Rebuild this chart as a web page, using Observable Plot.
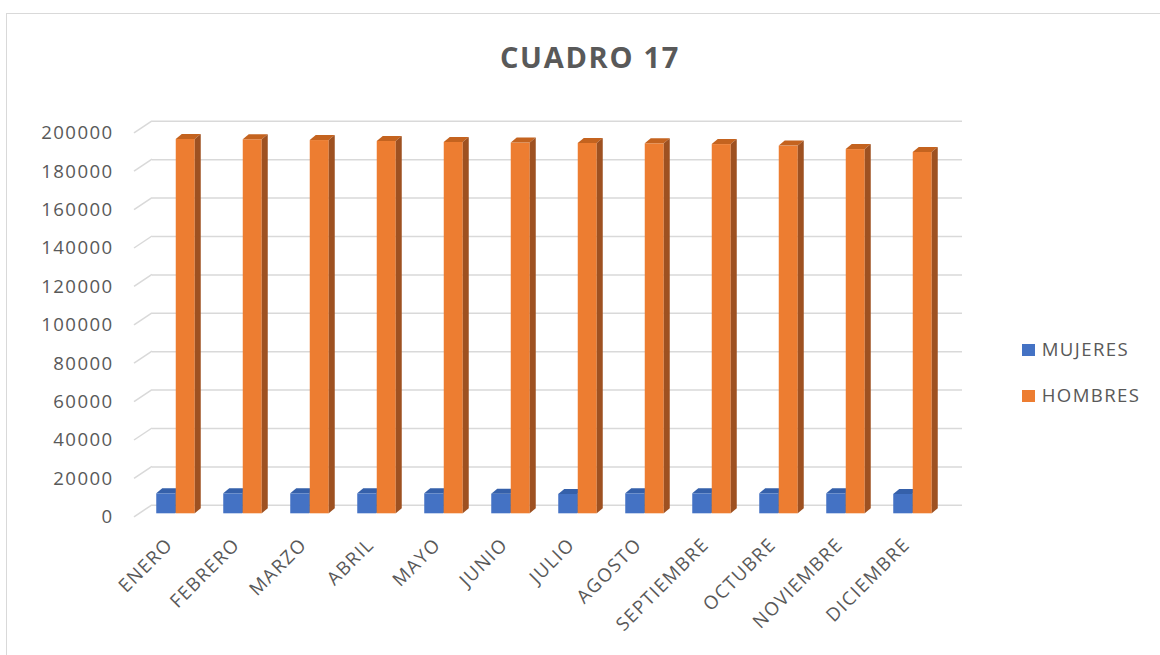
<!DOCTYPE html>
<html>
<head>
<meta charset="utf-8">
<script src="https://cdn.jsdelivr.net/npm/d3@7"></script>
<script src="https://cdn.jsdelivr.net/npm/@observablehq/plot@0.6"></script>
<style>
  html, body { margin: 0; padding: 0; background: #fff; overflow: hidden; }
  #wrap { position: relative; width: 1160px; height: 655px; overflow: hidden; font-family: "Open Sans", sans-serif; }
  #border { position: absolute; left: 6px; top: 13px; width: 1300px; height: 800px; border: 1.5px solid #d9d9d9; box-sizing: border-box; }
  #chart { position: absolute; left: 0; top: 0; }
  #title { position: absolute; left: 0; width: 1180px; top: 41.6px; text-align: center; font-size: 29px; line-height: 29px; font-weight: 700; color: #595959; letter-spacing: 1.7px; }
  .leg { position: absolute; left: 1022px; font-size: 18.6px; line-height: 18.6px; color: #595959; letter-spacing: 1.4px; white-space: nowrap; }
  .leg span.sw { position: absolute; left: 0; top: 3.5px; width: 12.5px; height: 12.5px; }
  .leg span.lab { position: absolute; left: 19.7px; top: 0; }
</style>
</head>
<body>
<div id="wrap">
  <div id="border"></div>
  <div id="chart"></div>
  <div id="title">CUADRO 17</div>
  <div id="legend"></div>
</div>
<script>
const months = ["ENERO","FEBRERO","MARZO","ABRIL","MAYO","JUNIO","JULIO","AGOSTO","SEPTIEMBRE","OCTUBRE","NOVIEMBRE","DICIEMBRE"];
const mujeres = [10400,10400,10400,10400,10400,10200,10100,10400,10400,10400,10400,10100];
const hombres = [194950,194800,194400,193900,193400,193100,192900,192700,192300,191500,189700,188200];
const seriesNames = ["MUJERES","HOMBRES"];
const seriesColors = ["#4472C4","#ED7D31"];
const yTicks = [0,20000,40000,60000,80000,100000,120000,140000,160000,180000,200000];

const data = months.map((m, i) => ({month: m, mujeres: mujeres[i], hombres: hombres[i]}));
const textColor = "#595959";
const gridColor = "#d9d9d9";

const chart = Plot.plot({
  width: 1160,
  height: 655,
  marginLeft: 139,
  marginRight: 211,
  marginTop: 129.3,
  marginBottom: 141.7,
  x: {domain: months, padding: 0, axis: null},
  y: {domain: [0, 200000], axis: null},
  style: {fontFamily: "Open Sans, sans-serif", letterSpacing: "1.4px", background: "transparent"},
  marks: [
    Plot.ruleY(yTicks, {dx: 13, dy: -8.5, stroke: gridColor, strokeWidth: 1.5}),
    Plot.text(yTicks, {y: d => d, text: d => String(d), frameAnchor: "left", textAnchor: "end", dx: -26, dy: 3.5, fontSize: 18.6, fill: textColor}),
    Plot.text(months, {x: d => d, text: d => d, frameAnchor: "bottom", rotate: -45, textAnchor: "end", dx: -2, dy: 32, fontSize: 18.6, fill: textColor}),
    Plot.barY(data, {x: "month", y: "mujeres", fill: seriesColors[0], insetLeft: 14.25, insetRight: 33.75}),
    Plot.barY(data, {x: "month", y: "hombres", fill: seriesColors[1], insetLeft: 33.75, insetRight: 14.25})
  ]
});
document.getElementById("chart").appendChild(chart);

const ns = "http://www.w3.org/2000/svg";
// slanted floor/wall connectors for each gridline, from the library's scales
const ys = chart.scale("y");
const xr = chart.scale("x").range;
const slantG = document.createElementNS(ns, "g");
yTicks.forEach(v => {
  const py = ys.apply(v);
  const l = document.createElementNS(ns, "line");
  l.setAttribute("x1", xr[0] - 5);
  l.setAttribute("y1", py + 3.5);
  l.setAttribute("x2", xr[0] + 13);
  l.setAttribute("y2", py - 8.5);
  l.setAttribute("stroke", gridColor);
  l.setAttribute("stroke-width", 1.5);
  slantG.appendChild(l);
});
const ruleG = chart.querySelector('g[aria-label="rule"]');
if (ruleG) ruleG.parentNode.insertBefore(slantG, ruleG.nextSibling);
else chart.insertBefore(slantG, chart.firstChild);

// 3D faces derived from each rendered bar
function add3D(g, topColor, sideColor) {
  if (!g) return;
  const dx = 6, dy = -5;
  g.querySelectorAll("rect").forEach(r => {
    const x = +r.getAttribute("x"), y = +r.getAttribute("y");
    const w = +r.getAttribute("width"), h = +r.getAttribute("height");
    const p = r.parentNode;
    const top = document.createElementNS(ns, "polygon");
    top.setAttribute("points", `${x},${y} ${x + w},${y} ${x + w + dx},${y + dy} ${x + dx},${y + dy}`);
    top.setAttribute("fill", topColor);
    const side = document.createElementNS(ns, "polygon");
    side.setAttribute("points", `${x + w},${y} ${x + w + dx},${y + dy} ${x + w + dx},${y + h + dy} ${x + w},${y + h}`);
    side.setAttribute("fill", sideColor);
    p.insertBefore(side, r.nextSibling);
    p.insertBefore(top, r.nextSibling);
  });
}
const barGs = chart.querySelectorAll('g[aria-label="bar"]');
add3D(barGs[0], "#3560AA", "#2D4F8E");
add3D(barGs[1], "#C4631F", "#9E5121");

// legend
const legend = document.getElementById("legend");
const legTops = [340.1, 386.4];
seriesNames.forEach((name, i) => {
  const d = document.createElement("div");
  d.className = "leg";
  d.style.top = legTops[i] + "px";
  d.innerHTML = `<span class="sw" style="background:${seriesColors[i]}"></span><span class="lab">${name}</span>`;
  legend.appendChild(d);
});
</script>
</body>
</html>
